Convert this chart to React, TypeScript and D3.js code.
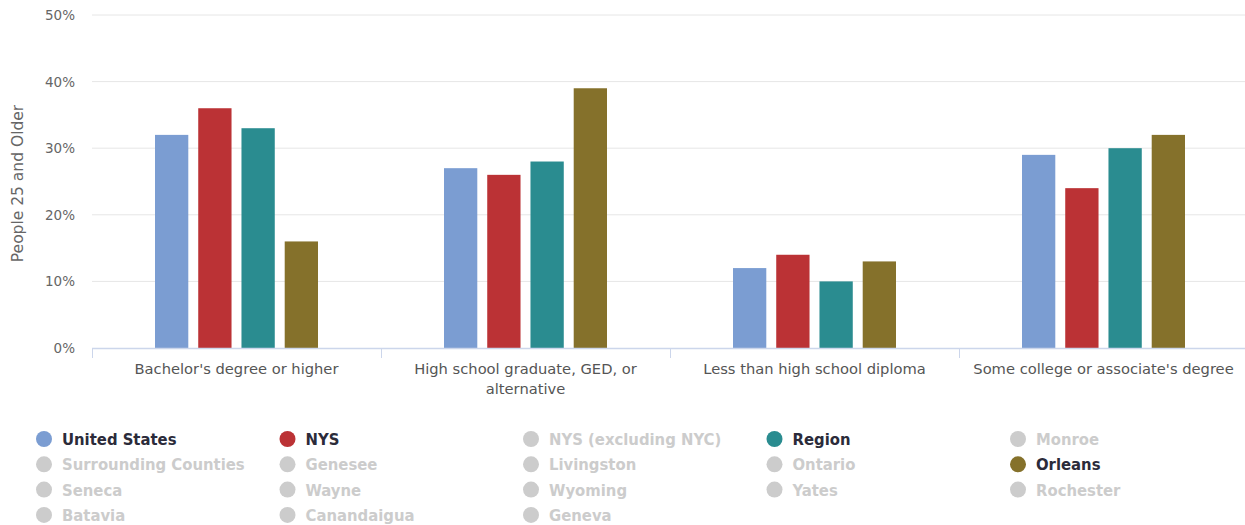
import React from "react";
import * as d3 from "d3";

const categories = [
  "Bachelor's degree or higher",
  "High school graduate, GED, or alternative",
  "Less than high school diploma",
  "Some college or associate's degree",
];
const seriesNames = ["United States", "NYS", "Region", "Orleans"];
const seriesColors = ["#7b9dd2", "#bb3235", "#2a8c90", "#85712b"];
const usValues = [32, 27, 12, 29];
const nysValues = [36, 26, 14, 24];
const regionValues = [33, 28, 10, 30];
const orleansValues = [16, 39, 13, 32];
const yTicks = [0, 10, 20, 30, 40, 50];
const legendItems = [
  "United States", "NYS", "NYS (excluding NYC)", "Region", "Monroe",
  "Surrounding Counties", "Genesee", "Livingston", "Ontario", "Orleans",
  "Seneca", "Wayne", "Wyoming", "Yates", "Rochester",
  "Batavia", "Canandaigua", "Geneva",
];
const seriesValues = [usValues, nysValues, regionValues, orleansValues];

const W = 1245, H = 525;
const left = 92, right = 1248, top = 15, bottom = 348;

export default function App() {
  const x = d3.scaleBand<string>().domain(categories).range([left, right]);
  const x1 = d3.scaleBand<string>().domain(seriesNames).range([63, 226]).paddingInner(0.23);
  const y = d3.scaleLinear().domain([0, 50]).range([bottom, top]);
  const font = "'DejaVu Sans', sans-serif";
  const legendFont = "'DejaVu Sans Condensed', 'DejaVu Sans', sans-serif";

  const wrap = (c: string) =>
    c === "High school graduate, GED, or alternative"
      ? ["High school graduate, GED, or", "alternative"]
      : [c];

  return (
    <svg width={W} height={H} style={{ position: "absolute", left: 0, top: 0, background: "#fff" }}>
      {yTicks.map((t) => (
        <g key={t}>
          {t > 0 && <line x1={left} x2={right} y1={y(t)} y2={y(t)} stroke="#e6e6e6" strokeWidth={1} />}
          <text x={75} y={y(t) + 5} textAnchor="end" fontFamily={font} fontSize={13.5} fill="#666">
            {t}%
          </text>
        </g>
      ))}
      <text
        transform={`translate(23, ${(top + bottom) / 2 + 2}) rotate(-90)`}
        textAnchor="middle"
        fontFamily={font}
        fontSize={15.5}
        fill="#666"
      >
        People 25 and Older
      </text>
      {categories.map((c, ci) => (
        <g key={c}>
          {seriesNames.map((s, si) => {
            const v = seriesValues[si][ci];
            return (
              <rect
                key={s}
                x={(x(c) as number) + (x1(s) as number)}
                y={y(v)}
                width={x1.bandwidth()}
                height={bottom - y(v)}
                fill={seriesColors[si]}
              />
            );
          })}
        </g>
      ))}
      <line x1={left} x2={right} y1={bottom + 0.5} y2={bottom + 0.5} stroke="#ccd6eb" strokeWidth={1.5} />
      {categories.map((c, i) => (
        <line
          key={"t" + i}
          x1={(x(c) as number) + 0.5}
          x2={(x(c) as number) + 0.5}
          y1={bottom}
          y2={bottom + 10}
          stroke="#ccd6eb"
          strokeWidth={1}
        />
      ))}
      {categories.map((c) => (
        <text
          key={"l" + c}
          x={(x(c) as number) + x.bandwidth() / 2}
          y={374}
          textAnchor="middle"
          fontFamily={font}
          fontSize={14.7}
          fill="#555"
        >
          {wrap(c).map((line, li) => (
            <tspan key={li} x={(x(c) as number) + x.bandwidth() / 2} dy={li === 0 ? 0 : 20}>
              {line}
            </tspan>
          ))}
        </text>
      ))}
      {legendItems.map((name, i) => {
        const col = i % 5;
        const row = Math.floor(i / 5);
        const cx = 44 + col * 243.5;
        const cy = 439 + row * 25.3;
        const si = seriesNames.indexOf(name);
        const active = si >= 0;
        return (
          <g key={name}>
            <circle cx={cx} cy={cy} r={8} fill={active ? seriesColors[si] : "#cccccc"} />
            <text
              x={cx + 18}
              y={cy + 6}
              fontFamily={legendFont}
              fontWeight="bold"
              fontSize={16.5}
              fill={active ? "#2b2b3a" : "#cccccc"}
            >
              {name}
            </text>
          </g>
        );
      })}
    </svg>
  );
}
